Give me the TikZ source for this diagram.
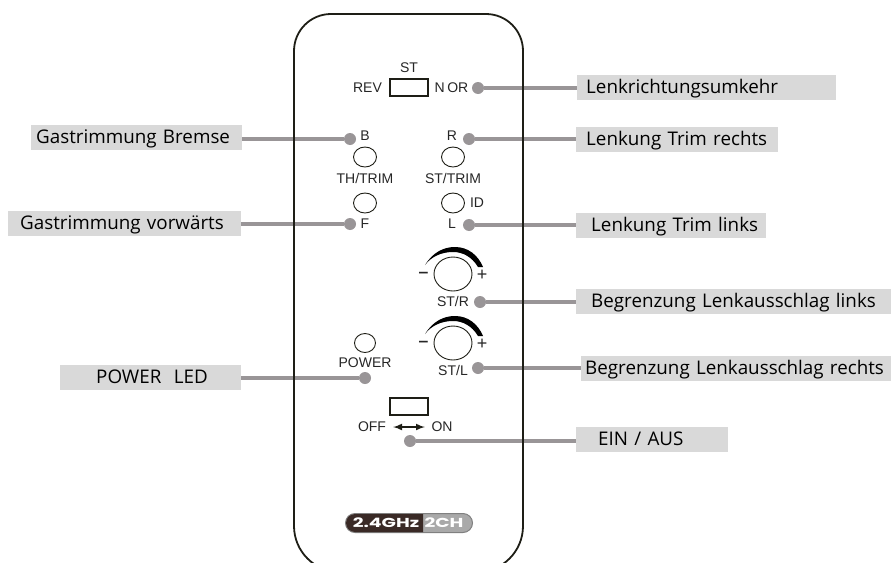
\documentclass[tikz,border=0pt]{standalone}
\usepackage{fontspec}
\usepackage{graphicx}
\setmainfont{Liberation Sans}
\newfontfamily\labelfont{Open Sans}
\newfontfamily\logofont{Poppins}
\newfontfamily\minusfont{DejaVu Sans}
\usetikzlibrary{positioning,arrows,shapes.geometric}
\definecolor{boxgray}{HTML}{D9D9D9}
\definecolor{linegray}{HTML}{999597}
\definecolor{inkblack}{HTML}{1E1E16}
\definecolor{logodark}{HTML}{3A2A26}
\definecolor{logolight}{HTML}{A9A9A9}
\tikzset{
	callout/.style={fill=boxgray,anchor=west,inner xsep=0pt,inner ysep=0pt,minimum height=25pt,text height=16pt,text depth=4pt,align=left,font=\labelfont\fontsize{18.8}{20}\selectfont,text=black},
	dot/.style={circle,fill=linegray,inner sep=0pt,minimum size=12pt},
	panel/.style={inner sep=0pt,font=\fontsize{14}{16}\selectfont,text=black!85},
	lead/.style={draw=linegray,line width=4pt},
	led/.style={draw=inkblack,ellipse,inner sep=0pt,line width=0.9pt},
	slide/.style={draw=inkblack,inner sep=0pt,line width=1.2pt,minimum width=38pt,minimum height=17pt},
}

\begin{document}
\begin{tikzpicture}[x=1pt,y=-1pt]
\path[use as bounding box,clip] (0,0) rectangle (891,562);

\foreach \x/\y/\w/\i/\l/\t in {31/137.5/211/5/gb/Gastrimmung Bremse,8/223.5/233/12/gf/Gastrimmung vorwärts,60/377.5/181/36/pl/POWER\ \ LED,577/87.5/259/9/lu/Lenkrichtungsumkehr,576/139.5/202/10/tr/Lenkung Trim rechts,576/225.5/190/15/tl/Lenkung Trim links,576/301.5/315/15/bl/Begrenzung Lenkausschlag links,581/368.5/310/4/br/Begrenzung Lenkausschlag rechts,576/439.5/152/22/ea/{EIN / AUS}}
	\node[callout,text width=\w pt] (\l) at (\x,\y) {\hspace*{\i pt}\t};

\foreach \x/\y/\l in {478/88/nor,350/139/b,469/139/r,350/224/f,469/225/ll,480/302/str,478/368/stl,365/378/pw,410/441/sw}
	\node[dot] (\l) at (\x,\y) {};

\foreach \a/\b in {b/gb,f/gf,pw/pl}
	\draw[lead](\a)--(\b.east |- \a);
\foreach \a/\b in {nor/lu,r/tr,ll/tl,str/bl,stl/br,sw/ea}
	\draw[lead](\a)--(\b.west |- \a);

\draw[inkblack,line width=1.8pt,rounded corners=37pt] (294,300) -- (294,14) -- (523,14) -- (523,300);
\draw[inkblack,line width=1.8pt,rounded corners=46pt] (294,299) -- (294,572) -- (523,572) -- (523,299);

\foreach \x/\y/\l/\t in {409/68/st/ST,367.5/88/rev/REV,451.5/88/norm/N\kern2.5pt OR,365/136/tb/B,452/136/tr2/R,365/178/th/{TH/TRIM},453/178/sttrim/{ST/TRIM},365/224/tf/F,452/224/tl2/L,477/203/id/ID,453/301/rl/{ST/R},453/370/ls/{ST/L},365/363/pwt/POWER,372/427/off/OFF,442/427/on/ON}
	\node[panel] (\l) at (\x,\y) {\t};

\foreach \x/\y/\l in {409/87.5/revsw,409/406.5/pwsw}
	\node[slide] (\l) at (\x,\y) {};

\foreach \x/\y/\l in {365/157/b1,453/157/b2,365/203/b3,453/203/b4}
	\node[led,minimum width=23pt,minimum height=20pt] (\l) at (\x,\y) {};
\node[led,minimum width=21pt,minimum height=19pt] (b5) at (365,343) {};

\foreach \y/\l in {274/k1,343/k2}{
	\node[led,minimum width=38pt,minimum height=34pt] (\l) at (453,\y) {};
	\node[panel,font=\minusfont\bfseries\fontsize{14}{14}\selectfont] (\l m) at (423.5,\y+1) {−};
	\node[panel,font=\fontsize{18}{18}\selectfont] (\l p) at (482,\y+1) {+};
	\fill[black,shift={(453,\y)}] (-28,-9) .. controls (-20,-22) and (-9,-27) .. (2,-27) .. controls (15,-27) and (25,-19) .. (30,-7) -- (25,-7) .. controls (19,-17) and (10,-22) .. (0,-22) .. controls (-12,-22) and (-22,-17) .. (-28,-9) -- cycle;
}

\draw[<->,>=latex,line width=2pt,inkblack,shorten <=7pt,shorten >=6.5pt] (off)--(on);

\fill[logolight,draw=gray,line width=1pt,rounded corners=9.5pt] (345.5,513.5) rectangle (472.5,532.5);
\fill[logodark,rounded corners=9pt] (423,514) -- (346,514) -- (346,532) -- (423,532);
\node[inner sep=0pt,text=white,font=\logofont\bfseries\fontsize{13}{13}\selectfont] (ghz) at (386,523) {\scalebox{1.45}[1]{2.4GHz}};
\node[inner sep=0pt,text=white,font=\logofont\bfseries\fontsize{13}{13}\selectfont] (ch) at (444,523) {\scalebox{1.45}[1]{2CH}};
\end{tikzpicture}
\end{document}
